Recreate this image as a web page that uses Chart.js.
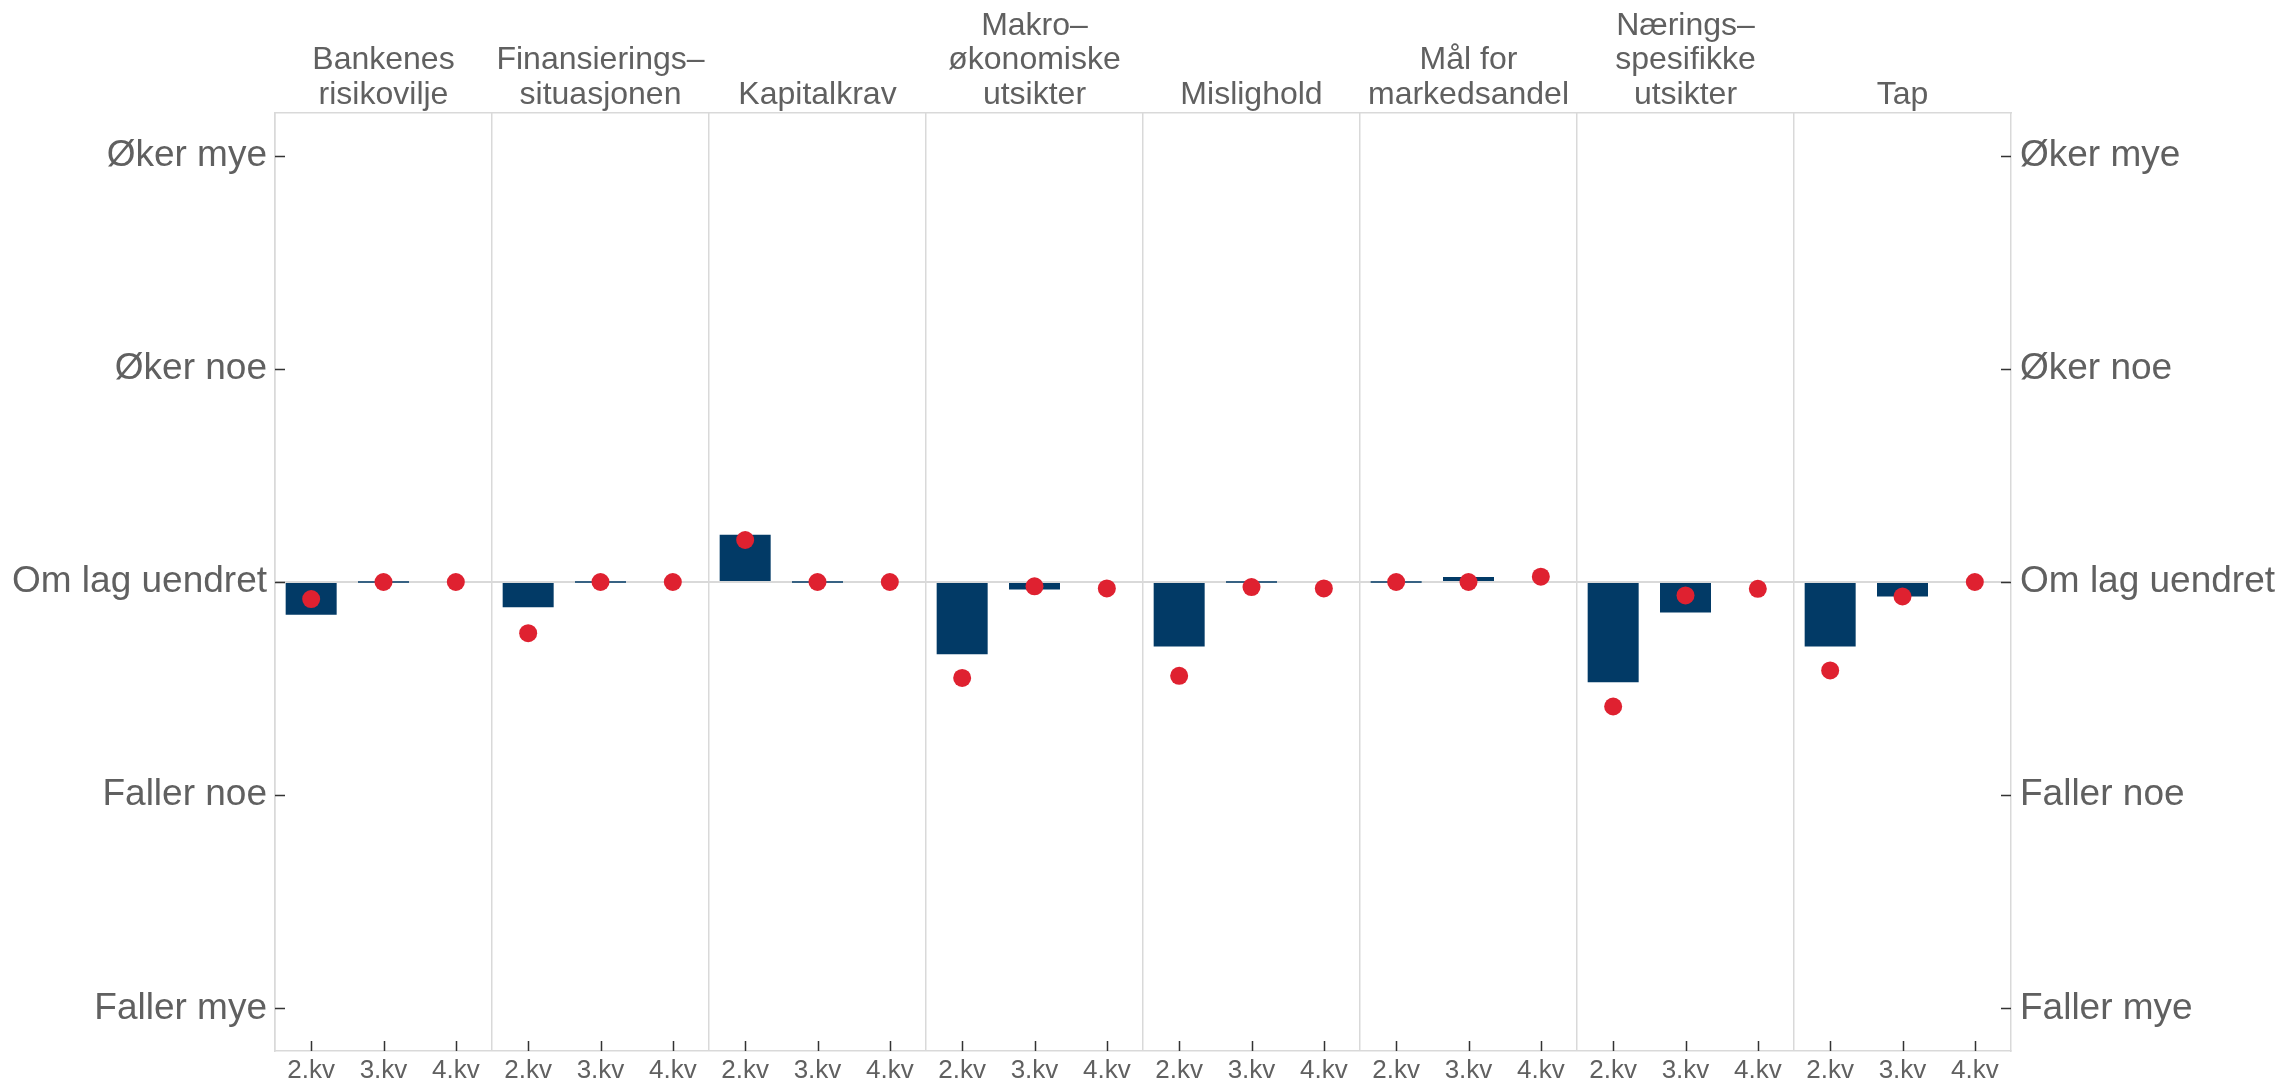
<!DOCTYPE html>
<html>
<head>
<meta charset="utf-8">
<script src="https://cdn.jsdelivr.net/npm/chart.js@4"></script>
<style>
  html, body { margin: 0; padding: 0; background: #ffffff; }
  #wrap { width: 2283px; height: 1084px; position: relative; }
</style>
</head>
<body>
<div id="wrap"><canvas id="c"></canvas></div>
<script>
// ---- data ----
const panels = [
  ["Bankenes", "risikovilje"],
  ["Finansierings\u2013", "situasjonen"],
  ["Kapitalkrav"],
  ["Makro\u2013", "\u00f8konomiske", "utsikter"],
  ["Mislighold"],
  ["M\u00e5l for", "markedsandel"],
  ["N\u00e6rings\u2013", "spesifikke", "utsikter"],
  ["Tap"]
];
const quarters = ["2.kv", "3.kv", "4.kv"];

// bars (actual), per panel
const bar2kv = [-0.154, -0.118, 0.222, -0.339, -0.302, 0, -0.47, -0.302];
const bar3kv = [0, 0, 0, -0.035, 0, 0.024, -0.143, -0.068];
const bar4kv = [null, null, null, null, null, null, null, null];

// dots (expected), per panel
const dot2kv = [-0.08, -0.24, 0.197, -0.45, -0.44, 0, -0.584, -0.415];
const dot3kv = [0, 0, 0, -0.02, -0.024, 0, -0.063, -0.068];
const dot4kv = [0, 0, 0, -0.03, -0.03, 0.025, -0.032, 0];

const yTickValues = [-2, -1, 0, 1, 2];
const yTickLabels = ["Faller mye", "Faller noe", "Om lag uendret", "\u00d8ker noe", "\u00d8ker mye"];

// ---- build library tables ----
const xLabels = [];
const barData = [];
const dotData = [];
const barSeries = [bar2kv, bar3kv, bar4kv];
const dotSeries = [dot2kv, dot3kv, dot4kv];
panels.forEach((p, i) => {
  quarters.forEach((q, j) => {
    xLabels.push(q);
    barData.push(barSeries[j][i]);
    dotData.push(dotSeries[j][i]);
  });
});

const GRID = '#d9d9d9';
const TEXT = '#606060';
const FONT = '"Liberation Sans", Arial, Helvetica, sans-serif';

const innerTicks = {
  id: 'innerTicks',
  afterDraw(chart) {
    const ctx = chart.ctx;
    const a = chart.chartArea;
    const L = 10;
    ctx.save();
    ctx.strokeStyle = '#333333';
    ctx.lineWidth = 1.5;
    ctx.beginPath();
    const y = chart.scales.y;
    y.ticks.forEach((t, i) => {
      const py = Math.round(y.getPixelForTick(i)) + 0.5;
      ctx.moveTo(a.left, py); ctx.lineTo(a.left + L, py);
      ctx.moveTo(a.right - L, py); ctx.lineTo(a.right, py);
    });
    const x = chart.scales.x;
    x.ticks.forEach((t, i) => {
      const px = Math.round(x.getPixelForTick(i)) + 0.5;
      ctx.moveTo(px, a.bottom - L); ctx.lineTo(px, a.bottom);
    });
    ctx.stroke();
    ctx.restore();
  }
};

function setTicks(scale) {
  scale.ticks = yTickValues.map(v => ({ value: v }));
}
function tickLabel(v) {
  const k = yTickValues.indexOf(v);
  return k >= 0 ? yTickLabels[k] : '';
}

new Chart(document.getElementById('c'), {
  data: {
    labels: xLabels,
    datasets: [
      {
        type: 'line',
        data: dotData,
        showLine: false,
        pointRadius: 9,
        pointHoverRadius: 9,
        pointBackgroundColor: '#df2130',
        pointBorderWidth: 0,
        borderColor: '#df2130',
        order: 0
      },
      {
        type: 'bar',
        data: barData,
        backgroundColor: '#023a66',
        borderWidth: 0,
        barPercentage: 0.705,
        categoryPercentage: 1.0,
        minBarLength: 1.5,
        order: 1
      }
    ]
  },
  options: {
    responsive: true,
    maintainAspectRatio: false,
    animation: false,
    events: [],
    layout: { padding: 0 },
    plugins: { legend: { display: false }, tooltip: { enabled: false }, title: { display: false } },
    scales: {
      x: {
        type: 'category',
        position: 'bottom',
        offset: true,
        grid: {
          offset: true,
          drawTicks: false,
          color: ctx => (ctx.index % 3 === 0 ? GRID : 'rgba(0,0,0,0)'),
          lineWidth: 1.5
        },
        border: { display: true, color: GRID, width: 1.5 },
        ticks: {
          autoSkip: false, maxRotation: 0, minRotation: 0,
          padding: 4,
          color: TEXT,
          font: { family: FONT, size: 26 }
        },
        afterFit: s => { s.height = 33; }
      },
      x2: {
        type: 'category',
        position: 'top',
        labels: panels,
        offset: true,
        grid: { display: false, drawTicks: false },
        border: { display: true, color: GRID, width: 1.5 },
        ticks: {
          autoSkip: false, maxRotation: 0, minRotation: 0,
          padding: 1,
          color: TEXT,
          font: { family: FONT, size: 32, lineHeight: 1.07 }
        },
        afterFit: s => { s.height = 113; }
      },
      y: {
        type: 'linear',
        position: 'left',
        min: -2.2,
        max: 2.2,
        afterBuildTicks: setTicks,
        grid: {
          drawTicks: false,
          color: ctx => (ctx.tick && ctx.tick.value === 0 ? GRID : 'rgba(0,0,0,0)'),
          lineWidth: 2
        },
        border: { display: true, color: GRID, width: 1.5 },
        ticks: {
          padding: 8,
          color: TEXT,
          font: { family: FONT, size: 37 },
          callback: v => tickLabel(v)
        },
        afterFit: s => { s.width = 275; }
      },
      y2: {
        type: 'linear',
        position: 'right',
        min: -2.2,
        max: 2.2,
        afterBuildTicks: setTicks,
        grid: { display: false, drawTicks: false },
        border: { display: true, color: GRID, width: 1.5 },
        ticks: {
          padding: 9,
          color: TEXT,
          font: { family: FONT, size: 37 },
          callback: v => tickLabel(v)
        },
        afterFit: s => { s.width = 272; }
      }
    }
  },
  plugins: [innerTicks]
});
</script>
</body>
</html>
